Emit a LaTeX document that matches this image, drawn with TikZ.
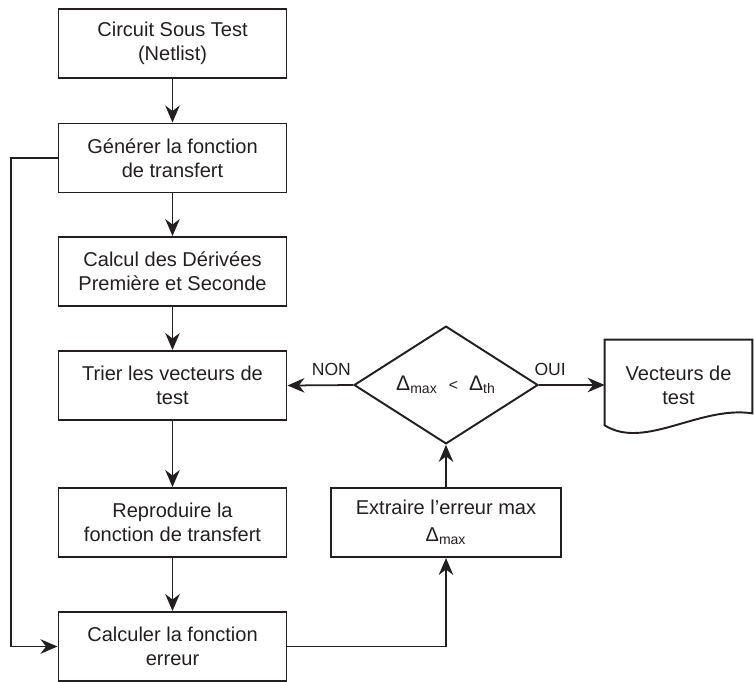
\documentclass[tikz,border=0pt]{standalone}
\usepackage{fontspec}
\setmainfont{Liberation Sans}
\usepackage{tikz}
\usetikzlibrary{shapes.geometric, arrows.meta, positioning}
\definecolor{cink}{RGB}{35, 31, 32}

\begin{document}
\begin{tikzpicture}[
  font=\fontsize{11.4}{13.5}\selectfont,
  box/.style={rectangle, minimum width=4.56cm, minimum height=1.38cm, align=center, draw=cink, line width=1.1pt, text=cink, inner sep=2pt},
  decision/.style={diamond, minimum width=3.68cm, minimum height=2.26cm, align=center, draw=cink, line width=1.1pt, text=cink, inner sep=0pt},
  arrow/.style={-{Stealth[length=3.4mm, width=2.9mm, inset=1.1mm]}, line width=1pt, color=cink},
  lbl/.style={font=\fontsize{10}{12}\selectfont, text=cink},
]
\useasboundingbox (0,0) rectangle (15.08,-13.62);

% ---- Main column ----
\node[box] (cst) at (3.45, -0.87) {Circuit Sous Test\\(Netlist)};

\node[box] (gen) at (3.45, -3.16) {Générer la fonction\\de transfert};

\node[box] (deriv) at (3.45, -5.43) {Calcul des Dérivées\\Première et Seconde};

\node[box] (trier) at (3.45, -7.71) {Trier les vecteurs de\\test};

\node[box] (repro) at (3.45, -10.45) {Reproduire la\\fonction de transfert};

\node[box] (calcerr) at (3.45, -12.93) {Calculer la fonction\\erreur};

% ---- Right side ----
\node[box, minimum width=4.6cm] (extr) at (8.92, -10.45) {Extraire l’erreur max\\[2pt]Δ\textsubscript{max}};

\node[decision] (test) at (8.92, -7.7) {{\large Δ}\textsubscript{max}\ \ {\small<}\ \ {\large Δ}\textsubscript{th}};

% Document shape for the output
\node[minimum width=2.94cm, minimum height=1.8cm, align=center, text=cink] (vect) at (13.57, -7.7) {Vecteurs de\\test};
\draw[line width=1.1pt, color=cink] ([yshift=0.1cm]vect.south west) -- (vect.north west) -- (vect.north east) -- ([yshift=0.34cm]vect.south east)
  .. controls ([xshift=1.9cm, yshift=0.5cm]vect.south west) and ([xshift=0.8cm, yshift=-0.4cm]vect.south west) .. ([yshift=0.1cm]vect.south west) -- cycle;

% ---- Arrows: main column ----
\draw[arrow] (cst.south) -- (gen.north);
\draw[arrow] (gen.south) -- (deriv.north);
\draw[arrow] (deriv.south) -- (trier.north);
\draw[arrow] (trier.south) -- (repro.north);
\draw[arrow] (repro.south) -- (calcerr.north);

% ---- Arrows: loops ----
\draw[arrow] (gen.west) -- ++(-0.93, 0) |- (calcerr.west);
\draw[arrow] (calcerr.east) -| (extr.south);
\draw[arrow] (extr.north) -- (test.south);
\draw[arrow] (test.west) -- node[lbl, above=1.5pt, pos=0.33]{NON} (trier.east);
\draw[arrow] (test.east) -- node[lbl, above=1.5pt, pos=0.17]{OUI} (vect.west);

\end{tikzpicture}
\end{document}
